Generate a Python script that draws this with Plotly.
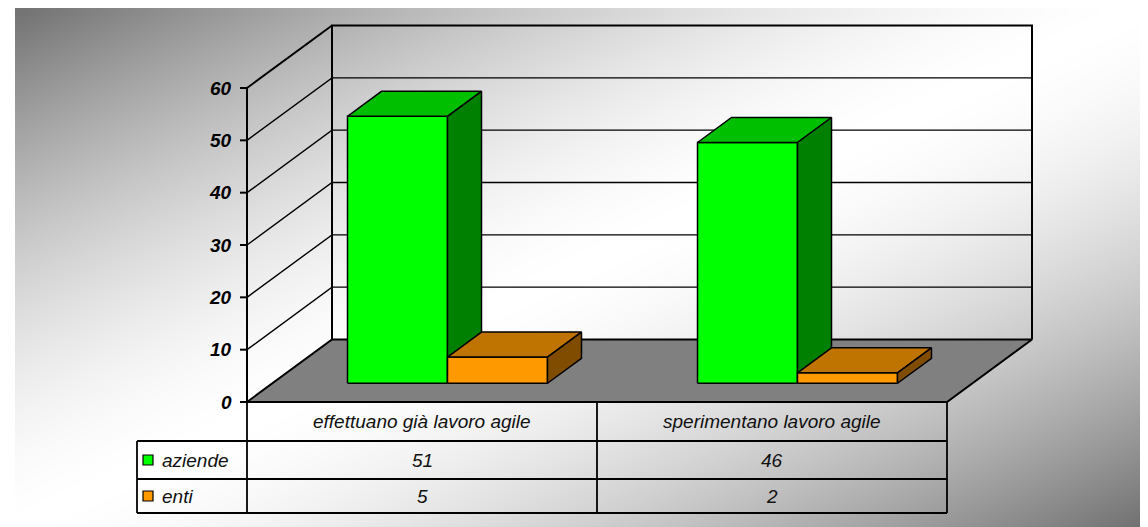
import numpy as np
import plotly.graph_objects as go

categories = ["effettuano già lavoro agile", "sperimentano lavoro agile"]
series_names = ["aziende", "enti"]
aziende = [51, 46]
enti = [5, 2]
y_ticks = [0, 10, 20, 30, 40, 50, 60]

# face colours: front, top, side
palette = {
    "aziende": ("#00ff00", "#00bf00", "#008000"),
    "enti": ("#ff9900", "#bf7300", "#804d00"),
}

W, H = 1148, 527
OFF = 8                       # page body margin around the plot div
X0, CAT = 247, 350            # page px of the category origin, px per category
Y0, UNIT = 402, 314 / 60      # page px of value 0, px per value unit
DX, DY = 85 / CAT, 62.5 / UNIT  # depth of the box in data units
F0, F1 = 0.3, 0.7             # front / back depth of the bars
BAR_W = 100 / CAT
N = len(categories)
YMAX = y_ticks[-1]
FONT = "Liberation Sans, Arial, sans-serif"


def xd(px):
    return (np.asarray(px, dtype=float) - X0) / CAT


def yd(py):
    return (Y0 - np.asarray(py, dtype=float)) / UNIT


def path(points):
    xs, ys = [], []
    for seg in points:
        for x, y in seg:
            xs.append(float(x))
            ys.append(float(y))
        xs.append(None)
        ys.append(None)
    return xs, ys


fig = go.Figure()

# background gradient (dark corners, light diagonal)
ex = np.linspace(15, W + OFF, 115)
ey = np.linspace(H + OFF, OFF, 71)
cx = (ex[:-1] + ex[1:]) / 2
cy = (ey[:-1] + ey[1:]) / 2
U, V = np.meshgrid((cx - 15) / (W - 15), (cy - 5) / (H - 5))
z = 1 - np.abs(U + V - 1) ** 1.6
fig.add_trace(go.Heatmap(
    x=xd(ex), y=yd(ey), z=z, zsmooth="best", showscale=False, zmin=0, zmax=1,
    colorscale=[[0, "#6f6f6f"], [1, "#ffffff"]], hoverinfo="skip"
))

# floor
fig.add_trace(go.Scatter(
    x=[0, DX, N + DX, N, 0], y=[0, DY, DY, 0, 0],
    mode="lines", fill="toself", fillcolor="#808080",
    line=dict(color="black", width=2), hoverinfo="skip", showlegend=False
))

# walls and gridlines
walls = [
    [(DX, DY), (DX, YMAX + DY), (N + DX, YMAX + DY), (N + DX, DY)],
    [(0, 0), (0, YMAX), (DX, YMAX + DY)],
]
grid = [[(0, v), (DX, v + DY), (N + DX, v + DY)] for v in y_ticks[1:-1]]
ticks = [[(-7 / CAT, v), (0, v)] for v in y_ticks]
gx, gy = path(grid)
fig.add_trace(go.Scatter(x=gx, y=gy, mode="lines", line=dict(color="black", width=1.4),
                         hoverinfo="skip", showlegend=False))
wx, wy = path(walls + ticks)
fig.add_trace(go.Scatter(x=wx, y=wy, mode="lines", line=dict(color="black", width=2),
                         hoverinfo="skip", showlegend=False))

# 3D bars
series = {"aziende": aziende, "enti": enti}
ox, oy = F0 * DX, F0 * DY
bx, by = (F1 - F0) * DX, (F1 - F0) * DY
for i in range(N):
    for j, name in enumerate(series_names):
        val = series[name][i]
        front, top, side = palette[name]
        x0 = i + 0.5 - BAR_W + j * BAR_W + ox
        x1 = x0 + BAR_W
        y0 = oy
        y1 = val + oy
        faces = [
            (front, [(x0, y0), (x1, y0), (x1, y1), (x0, y1)]),
            (top, [(x0, y1), (x1, y1), (x1 + bx, y1 + by), (x0 + bx, y1 + by)]),
            (side, [(x1, y0), (x1 + bx, y0 + by), (x1 + bx, y1 + by), (x1, y1)]),
        ]
        for color, pts in faces:
            pts = pts + [pts[0]]
            fig.add_trace(go.Scatter(
                x=[p[0] for p in pts], y=[p[1] for p in pts],
                mode="lines", fill="toself", fillcolor=color,
                line=dict(color="black", width=1.5),
                hoverinfo="skip", showlegend=False
            ))

# data table
row_px = [402, 441, 479, 513]
leg_x = xd(137)
rows = [yd(p) for p in row_px]
table = [[(0, rows[0]), (0, rows[3])]]
table += [[(k, rows[0]), (k, rows[3])] for k in range(1, N + 1)]
table += [[(leg_x, rows[1]), (leg_x, rows[3])]]
table += [[(leg_x, r), (N, r)] for r in rows[1:]]
table += [[(0, rows[0]), (N, rows[0])]]
tx, ty = path(table)
fig.add_trace(go.Scatter(x=tx, y=ty, mode="lines", line=dict(color="black", width=1.8),
                         hoverinfo="skip", showlegend=False))

annotations = []
for v in y_ticks:
    annotations.append(dict(
        x=float(xd(234)), y=v, text=f"<b><i>{v}</i></b>", showarrow=False,
        xanchor="right", yanchor="middle", font=dict(size=19, color="black", family=FONT)
    ))

row_mid = [(rows[k] + rows[k + 1]) / 2 for k in range(3)]
for i, cat in enumerate(categories):
    annotations.append(dict(
        x=i + 0.5, y=row_mid[0], text=f"<i>{cat}</i>", showarrow=False,
        font=dict(size=19, color="#111111", family=FONT)
    ))
    for j, name in enumerate(series_names):
        annotations.append(dict(
            x=i + 0.5, y=row_mid[j + 1], text=f"<i>{series[name][i]}</i>", showarrow=False,
            font=dict(size=19, color="#111111", family=FONT)
        ))

for j, name in enumerate(series_names):
    fig.add_trace(go.Scatter(
        x=[float(xd(148))], y=[row_mid[j + 1]], mode="markers",
        marker=dict(symbol="square", size=10, color=palette[name][0],
                    line=dict(color="black", width=1.2)),
        hoverinfo="skip", showlegend=False
    ))
    annotations.append(dict(
        x=float(xd(160)), y=row_mid[j + 1], text=f"<i>{name}</i>", showarrow=False,
        xanchor="left", font=dict(size=19, color="#111111", family=FONT)
    ))

fig.update_layout(
    width=W, height=H,
    margin=dict(l=0, r=0, t=0, b=0),
    paper_bgcolor="white", plot_bgcolor="rgba(0,0,0,0)",
    xaxis=dict(range=[float(xd(OFF)), float(xd(W + OFF))], visible=False, fixedrange=True),
    yaxis=dict(range=[float(yd(H + OFF)), float(yd(OFF))], visible=False, fixedrange=True),
    annotations=annotations,
    showlegend=False,
)

fig.write_html("out.html")
